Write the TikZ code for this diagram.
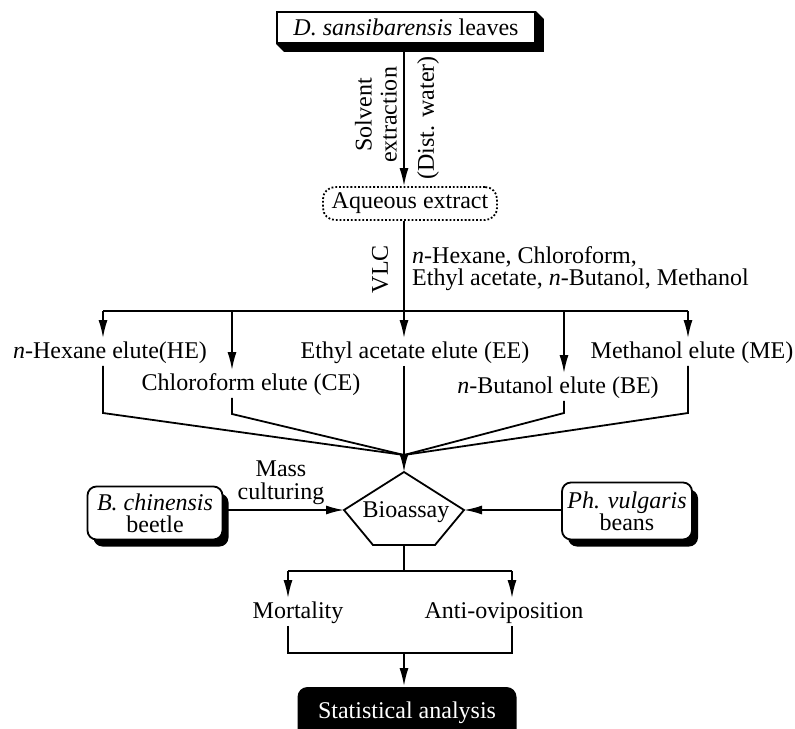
\documentclass[tikz,border=0pt]{standalone}
\usepackage{fontspec}
\setmainfont{Liberation Serif}
\usepackage{tikz}
\usetikzlibrary{arrows.meta,calc,shadows}

\begin{document}
\begin{tikzpicture}[x=1bp,y=-1bp,
    font=\fontsize{24bp}{22bp}\selectfont,
    line width=1.8bp,
    >={Latex[length=18bp,width=9bp]},
    lbl/.style={inner sep=2bp, text height=17bp, text depth=5bp},
    shbox/.style={draw, fill=white, rounded corners=9bp, align=center, inner sep=2bp,
        drop shadow={shadow xshift=6bp, shadow yshift=-7bp, fill=black, opacity=1}}]
    %\draw[step=50,gray,very thin] (0,0) grid (795,729);
    \useasboundingbox (0,0) rectangle (795,729);

    % leaves and extraction
    \node[draw, fill=white, minimum width=258bp, minimum height=31bp, inner sep=0pt] (lv) at (406,27.5) {\textit{D. sansibarensis} leaves};
    \fill (lv.north east) -- ++(8,8) -- ($(lv.south east)+(8,8)$) -- ($(lv.south west)+(8,8)$)
      -- (lv.south west) -- (lv.south east) -- cycle;
    \node[draw, dotted, rounded corners=12bp, minimum width=174bp, minimum height=33bp, inner sep=0pt] (aq) at (410,203.5) {Aqueous extract};
    \coordinate (bEE) at (404,311);
    \draw[->] (lv.south -| bEE) -- (aq.north -| bEE);
    \node[rotate=90, align=center, font=\fontsize{24bp}{25bp}\selectfont] (solv) at (376,115) {Solvent\\extraction};
    \node[rotate=90] (dist) at (428,118) {(Dist. water)};

    % VLC
    \draw (aq.south -| bEE) -- (bEE);
    \node[rotate=90] (vlc) at (380,269) {VLC};
    \node[anchor=west, align=left] (sol) at (408,269) {\textit{n}-Hexane, Chloroform,\\Ethyl acetate, \textit{n}-Butanol, Methanol};

    % elutes
    \draw (103,311) -- (688,311);
    \foreach \nm/\xb/\xl/\yl/\txt in {HE/103/110/352/{\textit{n}-Hexane elute(HE)},
        CE/232/251/384/{Chloroform elute (CE)},
        EE/404/415/352/{Ethyl acetate elute (EE)},
        BE/564/558/387/{\textit{n}-Butanol elute (BE)},
        ME/688/692/352/{Methanol elute (ME)}}{
      \coordinate (b\nm) at (\xb,311);
      \node[lbl] (\nm) at (\xl,\yl) {\txt};
      \draw[->] (b\nm) -- (b\nm |- \nm.north);
    }

    % pooling into bioassay
    \coordinate (conv) at (404,455);
    \coordinate (bioT) at (404,472);
    \coordinate (bioL) at (344,510);
    \coordinate (bioR) at (464,510);
    \coordinate (bioBL) at (373,545);
    \coordinate (bioBR) at (435,545);
    \draw (bioT) -- (bioR) -- (bioBR) -- (bioBL) -- (bioL) -- cycle;
    \node (bio) at (406,512) {Bioassay};
    \draw (HE.south -| bHE) -- (103,413) -- (conv);
    \draw (CE.south -| bCE) -- (232,414) -- (conv);
    \draw (BE.south -| bBE) -- (564,413) -- (conv);
    \draw (ME.south -| bME) -- (688,413) -- (conv);
    \draw[->] (EE.south -| bEE) -- (bioT);

    \node[shbox, minimum width=135bp, minimum height=53bp] (beetle) at (155,513) {\textit{B. chinensis}\\beetle};
    \node[shbox, minimum width=130bp, minimum height=57bp] (beans) at (627,511) {\textit{Ph. vulgaris}\\beans};
    \node[align=center, font=\fontsize{24bp}{23bp}\selectfont] (mass) at (281,483) {Mass\\culturing};
    \draw[->] (beetle.east |- bioL) -- (bioL);
    \draw[->] (beans.west |- bioR) -- (bioR);

    % outcomes
    \coordinate (bioB) at (404,545);
    \coordinate (sL) at (288,571);
    \coordinate (sR) at (512,571);
    \draw (bioB) -- (bioB |- sL);
    \draw (sL) -- (sR);
    \node[lbl] (mort) at (298,612) {Mortality};
    \node[lbl] (anti) at (504,612) {Anti-oviposition};
    \draw[->] (sL) -- (sL |- mort.north);
    \draw[->] (sR) -- (sR |- anti.north);
    \coordinate (jM) at (404,653);
    \draw (mort.south -| sL) -- (sL |- jM) -- (sR |- jM) -- (anti.south -| sR);
    \node[fill=black, text=white, rounded corners=10bp, minimum width=219bp, minimum height=52bp] (stat) at (407,713) {Statistical analysis};
    \draw[->] (jM) -- (stat.north -| jM);

\end{tikzpicture}
\end{document}
